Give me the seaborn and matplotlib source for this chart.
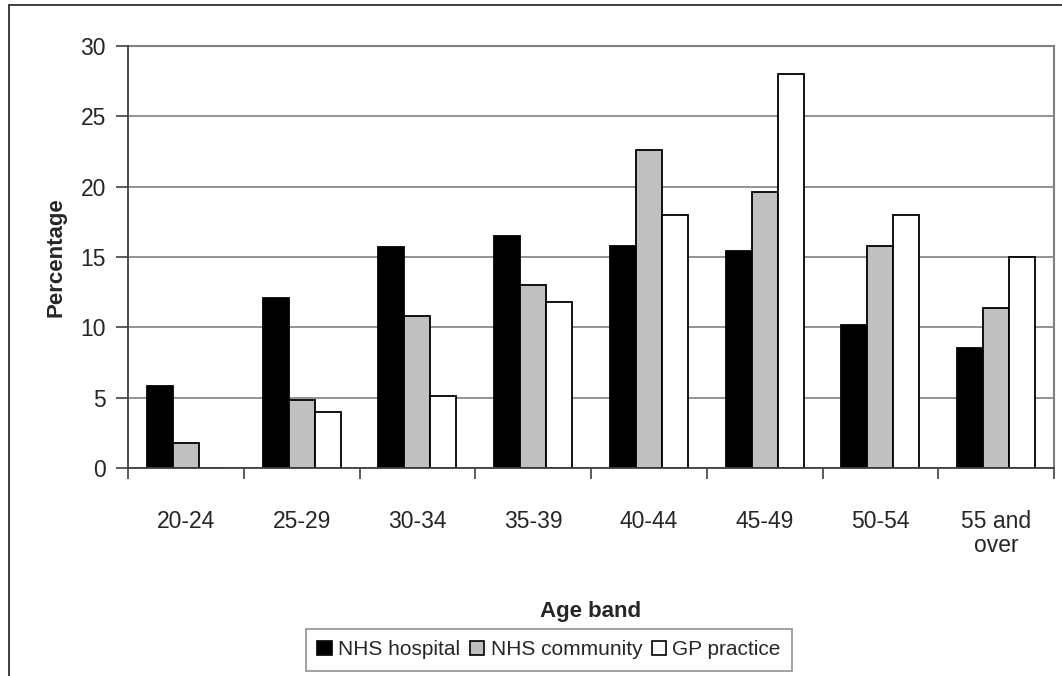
import matplotlib
matplotlib.use("Agg")
import matplotlib.pyplot as plt
import seaborn as sns
import pandas as pd
import numpy as np
from matplotlib.lines import Line2D
from matplotlib.patches import Patch

categories = ["20-24", "25-29", "30-34", "35-39", "40-44", "45-49", "50-54", "55 and\nover"]
nhs_hospital = [5.8, 12.1, 15.7, 16.5, 15.8, 15.4, 10.2, 8.5]
nhs_community = [1.8, 4.8, 10.8, 13.0, 22.6, 19.6, 15.8, 11.4]
gp_practice = [0.0, 4.0, 5.1, 11.8, 18.0, 28.0, 18.0, 15.0]
series_names = ["NHS hospital", "NHS community", "GP practice"]
colors = ["#000000", "#C0C0C0", "#FFFFFF"]
yticks = [0, 5, 10, 15, 20, 25, 30]

rows = []
for name, vals in zip(series_names, [nhs_hospital, nhs_community, gp_practice]):
    for c, v in zip(categories, vals):
        rows.append({"Age band": c, "Percentage": v, "Series": name})
df = pd.DataFrame(rows)

sns.set_theme(style="white")
plt.rcParams['font.family'] = ['Liberation Sans', 'DejaVu Sans']

W, H = 1062, 676
fig = plt.figure(figsize=(W / 100, H / 100), dpi=100)
ax = fig.add_axes([128 / W, 1 - 468 / H, (1054 - 128) / W, (468 - 46) / H])

sns.barplot(data=df, x="Age band", y="Percentage", hue="Series", order=categories,
            hue_order=series_names, palette=colors, edgecolor="black", linewidth=1.3,
            width=0.675, gap=0, errorbar=None, ax=ax, legend=False, zorder=3)

ax.set_xlim(-0.5, len(categories) - 0.5)
ax.set_ylim(0, 30)
ax.set_yticks(yticks)
ax.yaxis.grid(True, color="#808080", linewidth=1.2, zorder=0)
ax.xaxis.grid(False)
ax.set_axisbelow(True)

for s in ["top", "right"]:
    ax.spines[s].set_color("#808080")
    ax.spines[s].set_linewidth(1.5)
for s in ["left", "bottom"]:
    ax.spines[s].set_color("#404040")
    ax.spines[s].set_linewidth(1.3)
    ax.spines[s].set_zorder(4)

ax.tick_params(axis="y", which="major", direction="out", length=9, width=1.2,
               color="#404040", labelsize=16.5, pad=7, left=True)
ax.tick_params(axis="x", which="major", length=0, labelsize=16.5, pad=30)
ax.set_xticks(np.arange(-0.5, len(categories), 1.0), minor=True)
ax.tick_params(axis="x", which="minor", direction="out", length=8, width=1.2,
               color="#404040", bottom=True)
for lbl in ax.get_xticklabels():
    lbl.set_linespacing(1.1)
    lbl.set_verticalalignment("top")

ax.set_xlabel("Age band", fontsize=16, fontweight="bold", labelpad=31)
ax.set_ylabel("Percentage", fontsize=16, fontweight="bold", labelpad=10)

handles = [Patch(facecolor=c, edgecolor="black", linewidth=1.2) for c in colors]
leg = fig.legend(handles, series_names, loc="upper left",
                 bbox_to_anchor=(306 / W, 1 - 629 / H), ncol=3, fontsize=15,
                 frameon=True, fancybox=False, handlelength=0.7, handleheight=0.7,
                 handletextpad=0.3, columnspacing=0.45, borderpad=0.55, borderaxespad=0)
leg.get_frame().set_edgecolor("#808080")
leg.get_frame().set_linewidth(1.3)

# outer chart border (top and left visible)
fig.add_artist(Line2D([9 / W, 9 / W], [0, 1 - 5 / H], color="#303030", linewidth=1.3,
                      transform=fig.transFigure))
fig.add_artist(Line2D([9 / W, 1], [1 - 5 / H, 1 - 5 / H], color="#303030", linewidth=1.3,
                      transform=fig.transFigure))

fig.savefig("out.png", dpi=100)
